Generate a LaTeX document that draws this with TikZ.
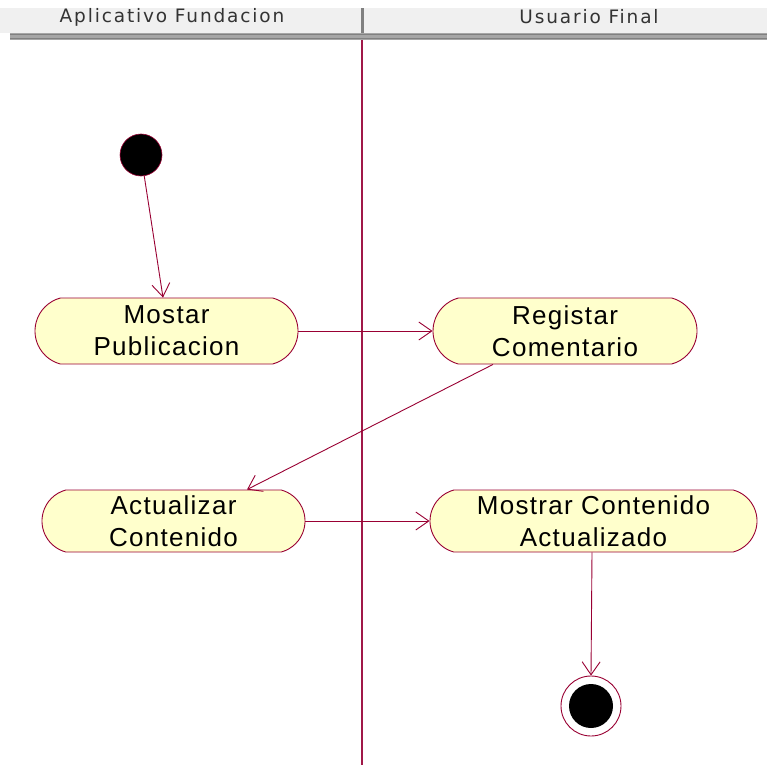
\documentclass[tikz,border=0pt]{standalone}
\usepackage{fontspec}
\setmainfont{Liberation Sans}
\newfontfamily\headerfont[LetterSpace=10]{DejaVu Sans}
\newfontfamily\statefont[LetterSpace=5]{Liberation Sans}
\usetikzlibrary{arrows.meta, shapes.misc}
\definecolor{umlred}{HTML}{990033}
\definecolor{umlfill}{HTML}{FFFFCC}
\definecolor{hdrbg}{HTML}{F0F0F0}
\definecolor{hdrline}{HTML}{808080}
\definecolor{laneline}{HTML}{A01848}
\tikzset{
  activity/.style={rounded rectangle, rounded rectangle arc length=150,
    draw=umlred, fill=umlfill, line width=0.9pt,
    minimum height=#1, inner sep=0pt,
    align=center, font=\statefont\fontsize{26}{32}\selectfont},
  activity/.default=66pt,
  flow/.style={draw=umlred, line width=0.9pt,
    -{Straight Barb[length=13pt, width=18pt, line width=0.9pt]}},
  startstate/.style={circle, fill=black, draw=umlred, line width=0.6pt,
    minimum size=42pt, inner sep=0pt},
  laneheader/.style={font=\headerfont\fontsize{18.5}{20}\selectfont, text=black!80},
}
\begin{document}
\begin{tikzpicture}[x=1pt, y=-1pt]
  \useasboundingbox (0,0) rectangle (767,765);
  \fill[white] (0,0) rectangle (767,765);

  % swimlane headers
  \fill[hdrbg] (0,8) rectangle (767,33);
  \fill[hdrline!70] (10,33) rectangle (767,40);
  \draw[hdrline, line width=1.2pt] (10,34.5) -- (767,34.5);
  \draw[hdrline, line width=1.2pt] (10,38.5) -- (767,38.5);
  \fill[hdrline] (360.5,8) rectangle (364,33);
  \node[laneheader] (hA) at (172,17) {Aplicativo Fundacion};
  \node[laneheader] (hB) at (589,17) {Usuario Final};

  % lane separator
  \coordinate (laneTop) at (362,40);
  \coordinate (laneBot) at (362,765);
  \draw[laneline, line width=1.6pt] (laneTop) -- (laneBot);

  % states
  \node[startstate] (start) at (141,155) {};
  \node[activity, minimum width=263pt] (mostar) at (166.5,331) {Mostar\\Publicacion};
  \node[activity, minimum width=264pt] (registar) at (565,331) {Registar\\Comentario};
  \node[activity=62pt, minimum width=263pt] (actualizar) at (173.5,521) {Actualizar\\Contenido};
  \node[activity=62pt, minimum width=327pt] (mostrar) at (593.5,521) {Mostrar Contenido\\Actualizado};
  \node[circle, draw=umlred, line width=0.9pt, minimum size=60pt, inner sep=0pt] (final) at (591,706) {};
  \node[circle, fill=black, minimum size=44pt, inner sep=0pt] (finalin) at (final) {};

  % transitions
  \draw[flow] (start) -- (mostar.north -| 163,0);
  \draw[flow] (mostar.east) -- (registar.west);
  \draw[flow] (registar.south -| 493,0) -- (actualizar.north -| 247,0);
  \draw[flow] (actualizar.east) -- (mostrar.west);
  \draw[flow] (mostrar.south -| 592,0) -- (final.north);
\end{tikzpicture}
\end{document}
